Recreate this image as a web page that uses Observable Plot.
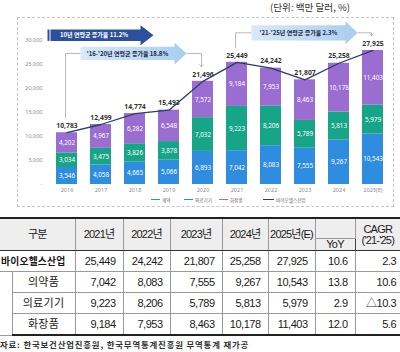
<!DOCTYPE html>
<html><head><meta charset="utf-8">
<script src="https://cdn.jsdelivr.net/npm/d3@7"></script>
<script src="https://cdn.jsdelivr.net/npm/@observablehq/plot@0.6"></script>
<style>
body{margin:0;width:400px;height:352px;position:relative;overflow:hidden;background:#fff;font-family:"Noto Sans CJK KR","Noto Sans",sans-serif;}
#unit{position:absolute;top:1px;left:270px;font-size:9.6px;color:#333;white-space:nowrap;line-height:12px;}
#frame{position:absolute;left:17px;top:17px;width:377px;height:190px;border:1px dashed #c4c4c4;box-sizing:border-box;}
#chart{position:absolute;left:0;top:0;}
#legend{position:absolute;top:196px;left:0;width:400px;height:8px;font-size:4.6px;color:#666;}
#legend span{position:absolute;top:0;display:flex;align-items:center;white-space:nowrap;height:7px;}
#legend i{display:inline-block;width:9px;height:1.6px;margin-right:2px;}
#tbl{position:absolute;top:217px;left:0;width:400px;border-collapse:collapse;table-layout:fixed;font-family:"Liberation Sans","Noto Sans CJK KR",sans-serif;font-size:11px;letter-spacing:-0.5px;color:#1a1a1a;}
#tbl th,#tbl td{padding:0;border:1px solid #9a9a9a;line-height:11px;white-space:nowrap;}
#tbl thead th{background:#eeeeee;font-weight:normal;text-align:center;letter-spacing:-0.8px;}
#tbl thead tr:first-child th{border-top:2px solid #222;height:19px;}
#tbl thead tr:nth-child(2) th{height:9px;border-bottom:1.5px solid #333;}
#tbl thead th.two{border-bottom:1.5px solid #333;}
#tbl tbody td{height:20px;text-align:right;padding-right:7px;}
#tbl tbody td.lab{text-align:center;padding-right:0;letter-spacing:0.3px;}
#tbl tbody td.main{font-weight:bold;text-align:left;padding-left:1px;font-size:9.8px;letter-spacing:0.2px;}
#tbl tbody tr:last-child td{border-bottom:2px solid #222;}
#tbl .c0{border-left:none !important;}
#tbl .cl{border-right:none !important;}
#tbl .sep{border-left:1.5px solid #444 !important;}
#tbl td.cagr{padding-right:4px;}
#src{position:absolute;top:339px;left:0;font-size:8.4px;font-weight:bold;color:#333;letter-spacing:0.85px;white-space:nowrap;line-height:11px;}
</style></head>
<body>
<div id="unit">(단위: 백만 달러, %)</div>
<div id="frame"></div>
<div id="chart"></div>
<div id="legend"></div>
<table id="tbl"></table>
<div id="src">자료: 한국보건산업진흥원, 한국무역통계진흥원 무역통계 재가공</div>
<script>
// ---- data ----
const years = ["2016","2017","2018","2019","2020","2021","2022","2023","2024","2025(E)"];
const categories = ["제약","의료기기","화장품"];
const pharma    = [3546, 4058, 4665, 5066, 6893, 7042, 8083, 7555, 9267, 10543];
const devices   = [3034, 3475, 3826, 3878, 7032, 9223, 8206, 5789, 5813, 5979];
const cosmetics = [4202, 4967, 6282, 6548, 7572, 9184, 7953, 8463, 10178, 11403];
const totals    = [10783, 12499, 14774, 15493, 21496, 25449, 24242, 21807, 25258, 27925];
const totalName = "바이오헬스산업";
const yTicks = [0, 5000, 10000, 15000, 20000, 25000, 30000];
const colors = ["#2f8de0", "#17a587", "#9a6dd0"];
const lineColor = "#2b3c6c";

const growthLabels = ["10년 연평균 증가율 11.2%", "'16-'20년 연평균 증가율 18.8%", "'21-'25년 연평균 증가율 2.3%"];
const growthFrom = ["2016", "2016", "2021"];
const growthTo = ["2019", "2020", "2025(E)"];
const growthLevel = [31000, 27200, 31500];

const tableYears = ["2021년","2022년","2023년","2024년","2025년(E)"];
const tableRows = ["바이오헬스산업","의약품","의료기기","화장품"];
const yoy = ["10.6","13.8","2.9","12.0"];
const cagr = ["2.3","10.6","△10.3","5.6"];

// ---- chart ----
const series = [pharma, devices, cosmetics];
const rows = [];
years.forEach((yr, i) => series.forEach((s, j) => rows.push({year: yr, cat: categories[j], value: s[i]})));
const totalRows = years.map((yr, i) => ({year: yr, total: totals[i]}));
const fmt = d3.format(",");

const plot = Plot.plot({
  width: 400, height: 212,
  marginLeft: 47, marginRight: 9, marginTop: 40, marginBottom: 28,
  style: {fontFamily: "'Noto Sans','Noto Sans CJK KR',sans-serif", fontSize: "5.5px", background: "transparent"},
  x: {domain: years, paddingInner: 0.39, paddingOuter: 0.2},
  y: {domain: [0, 30000]},
  color: {domain: categories, range: colors},
  marks: [
    Plot.axisY({ticks: yTicks, tickSize: 0, tickPadding: 5, tickFormat: d => d === 0 ? "-" : fmt(d), fill: "#8c8c8c", label: null, fontSize: 5.5}),
    Plot.axisX({tickSize: 0, tickPadding: 3.5, fill: "#8c8c8c", label: null, fontSize: 5.5}),
    Plot.barY(rows, {x: "year", y: "value", fill: "cat"}),
    Plot.text(rows, Plot.stackY({x: "year", y: "value", text: d => fmt(d.value), fill: "white", fontSize: 6.3})),
    Plot.line(totalRows, {x: "year", y: "total", stroke: lineColor, strokeWidth: 1.3}),
    Plot.text(totalRows, {x: "year", y: "total", text: d => fmt(d.total), dy: -7, fill: "#333", fontWeight: "bold", fontSize: 6.8})
  ]
});
document.getElementById("chart").appendChild(plot);

// ---- annotations (growth arrows) ----
const svg = d3.select(plot);
const sx = plot.scale("x"), sy = plot.scale("y");
const cx = v => sx.apply(v) + sx.bandwidth / 2;
const py = v => sy.apply(v);
const defs = svg.append("defs");
const grad = defs.append("linearGradient").attr("id", "lightArrow").attr("x1", "0").attr("x2", "1");
grad.append("stop").attr("offset", "0").attr("stop-color", "#d9e9f8");
grad.append("stop").attr("offset", "1").attr("stop-color", "#a9cdef");
const arrowStyle = [
  {dx1: -19, dx2: -15, bh: 5.7, hh: 10, hl: 13, fill: "#2c4f9e", ink: "#ffffff", bracket: false},
  {dx1: 14, dx2: -16, bh: 6.6, hh: 11, hl: 12, fill: "url(#lightArrow)", ink: "#1b2a4a", bracket: true},
  {dx1: 15, dx2: -15, bh: 7.6, hh: 11.5, hl: 12, fill: "url(#lightArrow)", ink: "#1b2a4a", bracket: true}
];
const ga = svg.append("g");
growthLabels.forEach((label, i) => {
  const st = arrowStyle[i];
  const x1 = cx(growthFrom[i]) + st.dx1, x2 = cx(growthTo[i]) + st.dx2;
  const yc = py(growthLevel[i]);
  const xh = x2 - st.hl;
  if (st.bracket) {
    const lx = cx(growthFrom[i]) - 1, rx = cx(growthTo[i]) - 1;
    const ly = py(totals[years.indexOf(growthFrom[i])]) - 14;
    const ry = py(totals[years.indexOf(growthTo[i])]) - 14;
    ga.append("path").attr("d", `M${lx},${ly}V${yc}H${x1}M${x2},${yc}H${rx}V${ry}`)
      .attr("fill", "none").attr("stroke", "#a8a8a8").attr("stroke-width", 0.8);
    ga.append("path").attr("d", `M${rx - 2},${ry - 2.5}L${rx},${ry}L${rx + 2},${ry - 2.5}`)
      .attr("fill", "none").attr("stroke", "#a8a8a8").attr("stroke-width", 0.8);
  } else {
    ga.append("rect").attr("x", x1).attr("y", yc - st.bh).attr("width", 2).attr("height", st.bh * 2).attr("fill", st.fill);
  }
  const bx = st.bracket ? x1 : x1 + 3;
  ga.append("path")
    .attr("d", `M${bx},${yc - st.bh}H${xh}V${yc - st.hh}L${x2},${yc}L${xh},${yc + st.hh}V${yc + st.bh}H${bx}Z`)
    .attr("fill", st.fill);
  ga.append("text").attr("x", (x1 + xh) / 2).attr("y", yc).attr("dy", "0.35em")
    .attr("text-anchor", "middle").attr("fill", st.ink).attr("font-size", 6).attr("font-weight", "bold")
    .attr("font-family", "'Noto Sans CJK KR',sans-serif").text(label);
});

// ---- legend ----
const legendItems = categories.map((c, i) => ({name: c, color: colors[i]})).concat([{name: totalName, color: lineColor}]);
const legendLeft = [151, 184, 219, 263];
const lg = document.getElementById("legend");
legendItems.forEach((it, i) => {
  const s = document.createElement("span");
  s.style.left = legendLeft[i] + "px";
  const sw = document.createElement("i");
  sw.style.background = it.color;
  if (i === 3) { sw.style.width = "11px"; sw.style.height = "1px"; }
  s.appendChild(sw);
  s.appendChild(document.createTextNode(it.name));
  lg.appendChild(s);
});

// ---- table ----
const colW = [12, 63, 48, 47, 52, 46, 47, 40, 45];
const tbl = document.getElementById("tbl");
let html = "<colgroup>" + colW.map(w => `<col style="width:${w}px">`).join("") + "</colgroup><thead><tr>";
html += `<th colspan="2" rowspan="2" class="c0 two">구분</th>`;
tableYears.forEach(y => html += `<th rowspan="2" class="two">${y}</th>`);
html += `<th></th><th rowspan="2" class="sep cl two">CAGR<br>('21-'25)</th></tr><tr><th>YoY</th></tr></thead><tbody>`;
const tableSeries = [totals, pharma, devices, cosmetics];
tableRows.forEach((name, r) => {
  html += "<tr>";
  if (r === 0) html += `<td colspan="2" class="lab main c0">${name}</td>`;
  else {
    if (r === 1) html += `<td rowspan="3" class="c0"></td>`;
    html += `<td class="lab">${name}</td>`;
  }
  tableSeries[r].slice(5).forEach(v => html += `<td>${fmt(v)}</td>`);
  html += `<td>${yoy[r]}</td><td class="sep cl cagr">${cagr[r]}</td></tr>`;
});
html += "</tbody>";
tbl.innerHTML = html;
</script>
</body></html>
